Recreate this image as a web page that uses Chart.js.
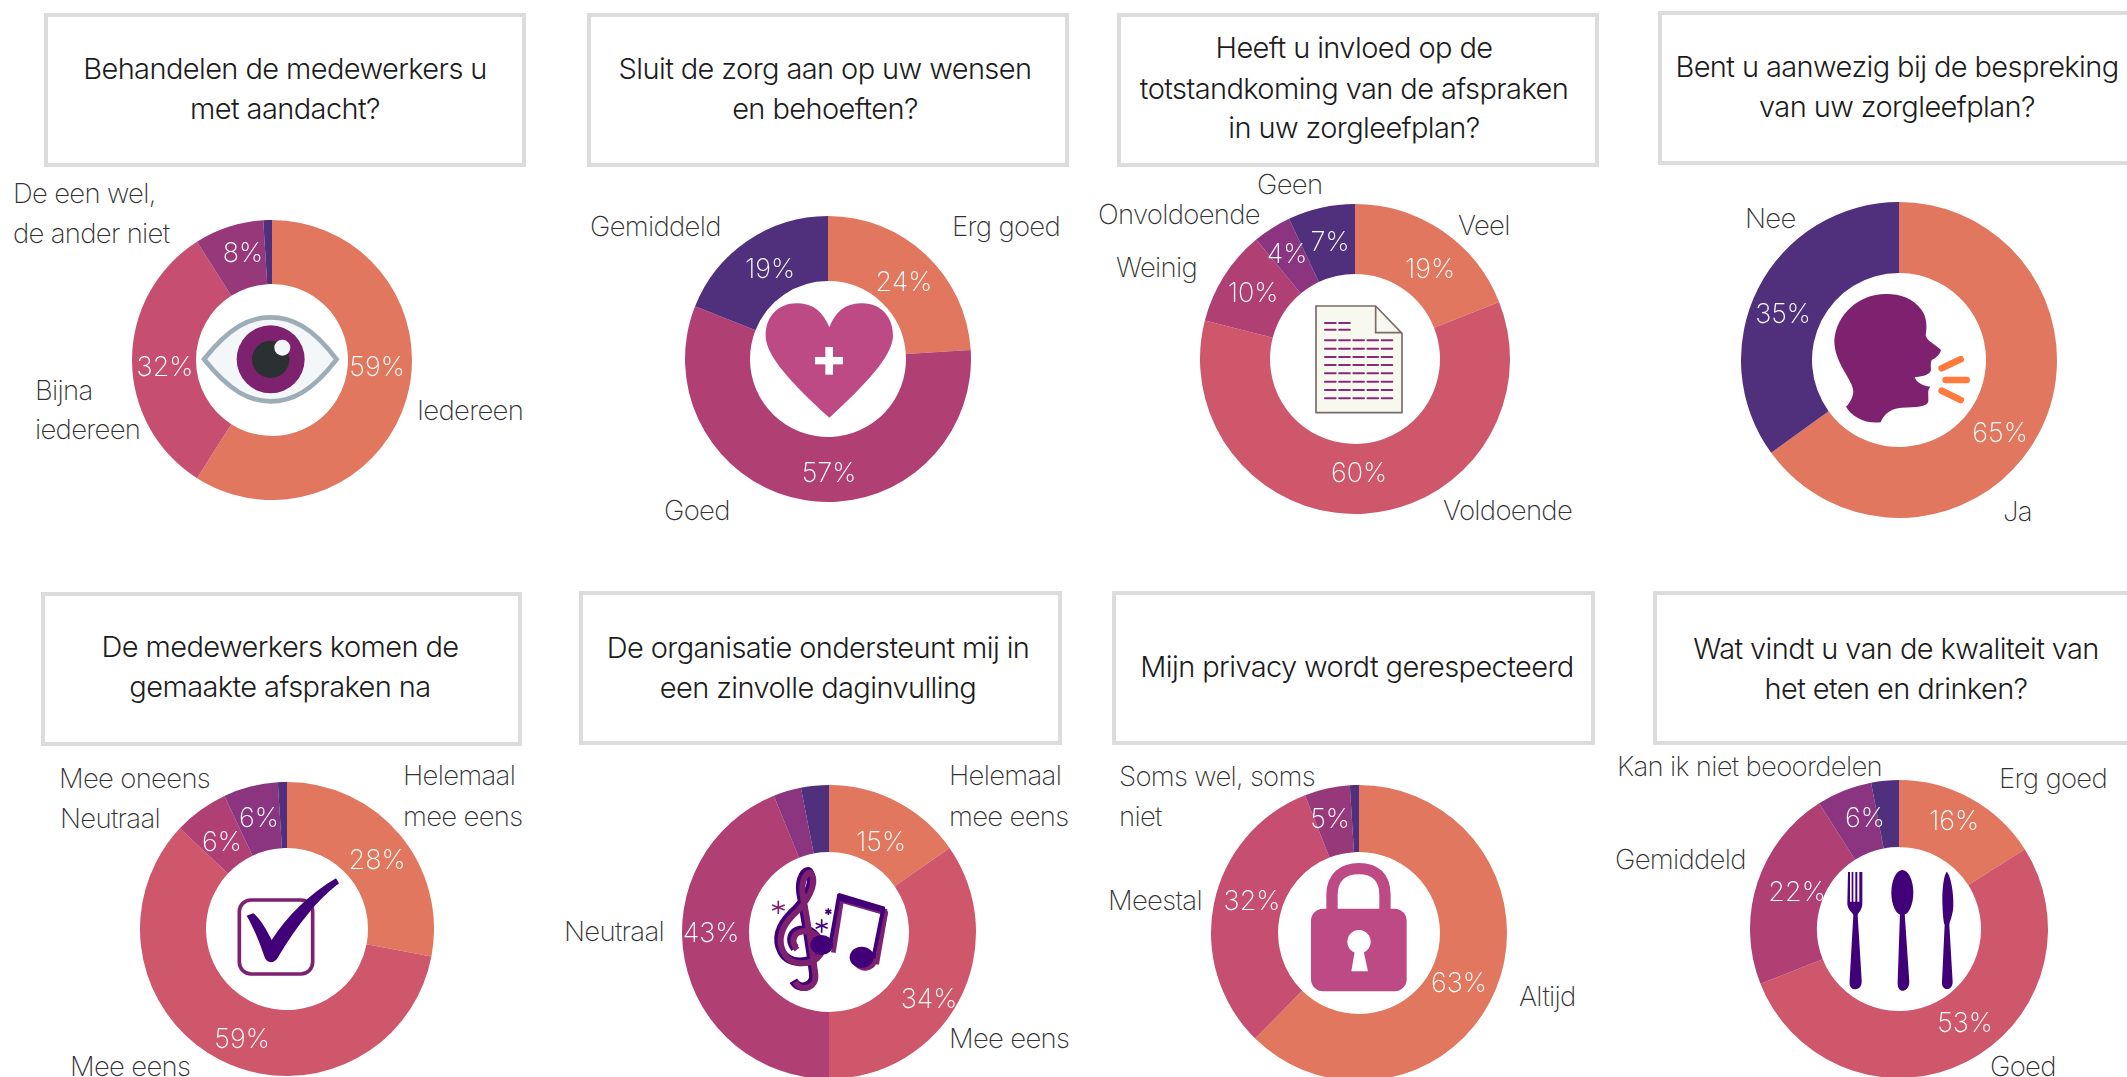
<!DOCTYPE html>
<html>
<head>
<meta charset="utf-8">
<title>Enquete resultaten</title>
<script src="https://cdn.jsdelivr.net/npm/chart.js@4"></script>
<style>
  html, body { margin: 0; padding: 0; background: #fff; }
  body { position: relative; width: 2127px; height: 1077px; overflow: hidden; font-family: Inter, sans-serif; }
  canvas { position: absolute; }
  .box { position: absolute; box-sizing: border-box; border: 4px solid #dcdcdc; background: #fff; }
  .title { position: absolute; transform: translate(-50%, -50%); white-space: nowrap; font-size: 29px; font-weight: 300; letter-spacing: -0.6px; color: #1c1c1c; }
  .cat { position: absolute; transform: translateY(-50%); white-space: nowrap; font-size: 27.5px; font-weight: 200; letter-spacing: -0.7px; color: #333; }
  svg { position: absolute; left: 0; top: 0; pointer-events: none; }
</style>
</head>
<body>
<svg width="2127" height="1077" viewBox="0 0 2127 1077" style="z-index:2">
  <!-- oog -->
  <g transform="translate(180,270) scale(.3333)">
    <path d="M72 268 C150 170 210 142 272 142 C335 142 395 170 470 268 C395 365 335 394 272 394 C210 394 150 365 72 268Z" fill="#f3f7fa" stroke="#9dadb7" stroke-width="14"/>
    <circle cx="272" cy="268" r="102" fill="#7e2270"/>
    <circle cx="272" cy="268" r="56" fill="#2b3033"/>
    <circle cx="307" cy="233" r="24" fill="#f3f7fa"/>
  </g>
  <!-- hart -->
  <g transform="translate(735,270) scale(.3333)">
    <path d="M283 172 C265 125 230 98 185 100 C130 100 90 140 92 200 C95 260 170 340 283 443 C395 340 470 260 474 200 C476 140 435 98 380 100 C335 98 300 125 283 172Z" fill="#be4a85"/>
    <rect x="240" y="261" width="84" height="22" fill="#fff"/>
    <rect x="271" y="231" width="23" height="83" fill="#fff"/>
  </g>
  <!-- document -->
  <g transform="translate(1265,280) scale(.3333)">
    <path d="M153 78 H332 L411 160 V398 H153Z" fill="#f8f9ee" stroke="#7a6b6b" stroke-width="5"/>
    <path d="M332 78 V158 H411" fill="none" stroke="#7a6b6b" stroke-width="5"/>
    <g stroke="#862a7a" stroke-width="6" stroke-linecap="round" stroke-dasharray="32 10.5">
      <path d="M180 129 H256M180 149 H256"/>
      <path d="M180 181 H384M180 206 H384M180 231 H384M180 255 H384M180 280 H384M180 305 H384M180 330 H384M180 355 H384"/>
    </g>
  </g>
  <!-- hoofd -->
  <g transform="translate(1810,270) scale(.3333)">
    <path d="M230 72 C150 70 80 130 73 210 C72 280 130 330 130 365 C128 385 118 400 108 410 C125 440 165 462 212 457 C222 430 245 415 275 413 C320 412 350 410 355 395 C357 375 350 360 362 350 C335 348 318 335 314 322 C335 318 358 318 363 300 C362 285 362 278 365 270 C378 265 392 250 393 240 C380 225 350 215 347 195 C352 170 350 140 335 120 C310 85 270 72 230 72Z" fill="#7e2270"/>
    <path d="M395 295 L452 268M407 330 H470M395 362 L452 390" stroke="#ff7a3c" stroke-width="20" stroke-linecap="round"/>
  </g>
  <!-- vinkje -->
  <g transform="translate(210,860) scale(.3333)">
    <rect x="88" y="120" width="220" height="222" rx="35" fill="none" stroke="#7e2270" stroke-width="11"/>
    <path d="M110 167 L130 160 C150 175 170 210 185 240 C230 170 300 100 378 55 L387 70 C320 120 260 200 205 290 C195 310 175 312 165 295 C155 265 135 210 110 167Z" fill="#420078"/>
  </g>
  <!-- muziek -->
  <g transform="translate(750,850) scale(.3333)">
    <path d="M130 392 C150 425 195 410 190 370 C185 330 165 200 152 130 C145 85 170 50 180 70 C195 100 165 155 125 190 C90 225 75 265 95 305 C115 345 180 345 205 310 C225 275 190 235 150 240 C125 245 115 270 135 295" fill="none" stroke="#420078" stroke-width="26"/>
    <path d="M136 396 C156 429 200 414 196 374 C191 334 171 204 158 134 C151 89 176 54 186 74 C201 104 171 159 131 194 C96 229 81 269 101 309 C121 349 186 349 211 314 C231 279 196 239 156 244 C131 249 121 274 141 299" fill="none" stroke="#7e2270" stroke-width="18"/>
    <g transform="translate(8,8)" fill="none" stroke="#7e2270" stroke-width="14">
      <path d="M268 135 L242 300"/>
      <path d="M400 175 L372 335"/>
    </g>
    <ellipse cx="345" cy="330" rx="36" ry="32" fill="#7e2270"/>
    <path d="M278 160 L412 198 V178 L278 140Z" fill="#7e2270"/>
    <g fill="none" stroke="#420078" stroke-width="12">
      <path d="M268 132 L240 290"/>
      <path d="M400 175 L370 325"/>
    </g>
    <path d="M265 128 L405 170 V190 L268 152Z" fill="#420078"/>
    <ellipse cx="215" cy="285" rx="34" ry="30" fill="#420078"/>
    <ellipse cx="335" cy="322" rx="36" ry="32" fill="#420078"/>
    <path d="M85 152 V192M66 165 L104 180M66 180 L104 165" stroke="#7e2270" stroke-width="5" fill="none"/>
    <path d="M215 208 V248M197 220 L233 235M197 235 L233 220M235 175 V195M226 180 L244 190M226 190 L244 180" stroke="#420078" stroke-width="5" fill="none"/>
  </g>
  <!-- slot -->
  <g transform="translate(1280,850) scale(.3333)">
    <path d="M156 185 V135 C156 80 190 56 237 56 C285 56 315 80 315 135 V185" fill="none" stroke="#be4a85" stroke-width="34"/>
    <rect x="93" y="176" width="287" height="248" rx="36" fill="#be4a85"/>
    <circle cx="237" cy="275" r="35" fill="#fff"/>
    <path d="M225 300 H250 L264 364 H214Z" fill="#fff"/>
  </g>
  <!-- bestek -->
  <g transform="translate(1820,850) scale(.3333)" fill="#420078">
    <path d="M84 66 H90 V155 H95 V66 H100 V155 H106 V66 H112 V155 H118 V66 H127 V160 C127 180 115 188 113 195 L125 390 C127 410 115 418 105 418 C95 418 87 410 89 390 L100 195 C98 188 82 180 82 160Z"/>
    <ellipse cx="247" cy="128" rx="33" ry="68"/>
    <path d="M240 190 H254 L268 395 C268 415 255 422 248 422 C240 422 232 415 233 395Z"/>
    <path d="M380 65 C392 75 402 130 400 170 C398 200 388 215 388 225 L398 395 C398 412 388 417 382 417 C372 417 365 410 366 395 L374 225 C370 215 368 190 367 150 C367 110 372 75 380 65Z"/>
  </g>
</svg>
<script>
  // waarden per vraag
  const vals1 = [59, 32, 8, 1];
  const vals2 = [24, 57, 19];
  const vals3 = [19, 60, 10, 4, 7];
  const vals4 = [65, 35];
  const vals5 = [28, 59, 6, 6, 1];
  const vals6 = [15, 34, 43, 3, 3];
  const vals7 = [63, 32, 5, 1];
  const vals8 = [16, 53, 22, 6, 3];

  const cats1 = ["Iedereen", "Bijna iedereen", "De een wel, de ander niet", "Geen"];
  const cats2 = ["Erg goed", "Goed", "Gemiddeld"];
  const cats3 = ["Veel", "Voldoende", "Weinig", "Onvoldoende", "Geen"];
  const cats4 = ["Ja", "Nee"];
  const cats5 = ["Helemaal mee eens", "Mee eens", "Neutraal", "Mee oneens", "Helemaal mee oneens"];
  const cats6 = ["Helemaal mee eens", "Mee eens", "Neutraal", "Mee oneens", "Helemaal mee oneens"];
  const cats7 = ["Altijd", "Meestal", "Soms wel, soms niet", "Nooit"];
  const cats8 = ["Erg goed", "Goed", "Gemiddeld", "Kan ik niet beoordelen", "Slecht"];

  const titles = [
    ["Behandelen de medewerkers u", "met aandacht?"],
    ["Sluit de zorg aan op uw wensen", "en behoeften?"],
    ["Heeft u invloed op de", "totstandkoming van de afspraken", "in uw zorgleefplan?"],
    ["Bent u aanwezig bij de bespreking", "van uw zorgleefplan?"],
    ["De medewerkers komen de", "gemaakte afspraken na"],
    ["De organisatie ondersteunt mij in", "een zinvolle daginvulling"],
    ["Mijn privacy wordt gerespecteerd"],
    ["Wat vindt u van de kwaliteit van", "het eten en drinken?"]
  ];

  const orange = "#e0775e", rose = "#cf576b", rose2 = "#c64f71", mag = "#b03f74", plum = "#8b347f", plum2 = "#97387a", purple = "#50307d";
  const colors = [
    [orange, rose2, plum2, purple],
    [orange, mag, purple],
    [orange, rose, mag, plum, purple],
    [orange, purple],
    [orange, rose, mag, plum, purple],
    [orange, rose, mag, plum, purple],
    [orange, rose2, plum2, purple],
    [orange, rose, mag, plum, purple]
  ];

  // layout: middelpunt en straal van de ringen
  const rings = [
    { cx: 272, cy: 360, r: 140, inner: 76 },
    { cx: 828, cy: 359, r: 143, inner: 78 },
    { cx: 1355, cy: 359, r: 155, inner: 85 },
    { cx: 1899, cy: 360, r: 158, inner: 87 },
    { cx: 287, cy: 929, r: 147, inner: 81 },
    { cx: 829, cy: 932, r: 147, inner: 80 },
    { cx: 1359, cy: 933, r: 148, inner: 81 },
    { cx: 1899, cy: 929, r: 149, inner: 82 }
  ];
  const boxes = [
    [44, 13, 482, 154], [587, 13, 482, 154], [1117, 13, 482, 154], [1658, 11, 482, 154],
    [41, 592, 481, 154], [579, 591, 483, 154], [1112, 591, 483, 154], [1653, 591, 482, 154]
  ];
  const titlePos = [
    [285, [68, 108]], [825, [68, 108]], [1354, [47, 88, 127]], [1897, [66, 106]],
    [280, [646, 686]], [818, [647, 687]], [1357, [666]], [1896, [648, 688]]
  ];
  const pctPos = [
    [[377, 368], [165, 368], [243, 254]],
    [[904, 283], [829, 474], [770, 270]],
    [[1430, 270], [1359, 474], [1253, 294], [1287, 255], [1330, 243]],
    [[2000, 434], [1783, 315]],
    [[377, 861], [242, 1040], [222, 843], [259, 819]],
    [[881, 843], [929, 1000], [711, 934]],
    [[1459, 984], [1252, 902], [1330, 820]],
    [[1954, 822], [1965, 1024], [1797, 893], [1865, 819]]
  ];
  const catPos = [
    ["De een wel,", 13, 193], ["de ander niet", 13, 233], ["Bijna", 35, 390], ["iedereen", 35, 429], ["Iedereen", 417, 410],
    ["Gemiddeld", 590, 226], ["Erg goed", 952, 226], ["Goed", 664, 510],
    ["Geen", 1257, 184], ["Onvoldoende", 1098, 214], ["Weinig", 1116, 267], ["Veel", 1458, 225], ["Voldoende", 1443, 510],
    ["Nee", 1745, 218], ["Ja", 2003, 511],
    ["Mee oneens", 59, 778], ["Neutraal", 60, 818], ["Helemaal", 403, 775], ["mee eens", 403, 816], ["Mee eens", 70, 1066],
    ["Neutraal", 564, 931], ["Helemaal", 949, 775], ["mee eens", 949, 816], ["Mee eens", 949, 1038],
    ["Soms wel, soms", 1119, 776], ["niet", 1119, 816], ["Meestal", 1108, 900], ["Altijd", 1519, 996],
    ["Kan ik niet beoordelen", 1617, 766], ["Gemiddeld", 1615, 859], ["Erg goed", 1999, 778], ["Goed", 1990, 1066]
  ];

  const allVals = [vals1, vals2, vals3, vals4, vals5, vals6, vals7, vals8];
  const allCats = [cats1, cats2, cats3, cats4, cats5, cats6, cats7, cats8];

  // percentages in de ring, alleen als het vak groot genoeg is
  const pctLabels = {
    id: "pctLabels",
    afterDatasetsDraw(chart, args, opts) {
      const c = chart.ctx;
      c.save();
      c.font = "200 27px Inter";
      c.fillStyle = "#fff";
      c.textAlign = "center";
      c.textBaseline = "middle";
      chart.data.datasets[0].data.forEach((v, i) => {
        if (v > 3) {
          const p = pctPos[opts.index][i];
          c.fillText(v + "%", p[0] - opts.left, p[1] - opts.top);
        }
      });
      c.restore();
    }
  };

  boxes.forEach(b => {
    const d = document.createElement("div");
    d.className = "box";
    d.style.cssText = "left:" + b[0] + "px;top:" + b[1] + "px;width:" + b[2] + "px;height:" + b[3] + "px";
    document.body.appendChild(d);
  });

  titles.forEach((lines, t) => {
    lines.forEach((line, i) => {
      const d = document.createElement("div");
      d.className = "title";
      d.textContent = line;
      d.style.left = titlePos[t][0] + "px";
      d.style.top = titlePos[t][1][i] + "px";
      document.body.appendChild(d);
    });
  });

  catPos.forEach(l => {
    const d = document.createElement("div");
    d.className = "cat";
    d.textContent = l[0];
    d.style.left = l[1] + "px";
    d.style.top = l[2] + "px";
    document.body.appendChild(d);
  });

  document.fonts.load("200 27px Inter").finally(() => {
    rings.forEach((g, i) => {
      const cv = document.createElement("canvas");
      cv.width = g.r * 2;
      cv.height = g.r * 2;
      cv.style.left = (g.cx - g.r) + "px";
      cv.style.top = (g.cy - g.r) + "px";
      cv.style.zIndex = 1;
      document.body.appendChild(cv);
      new Chart(cv.getContext("2d"), {
        type: "doughnut",
        data: {
          labels: allCats[i],
          datasets: [{ data: allVals[i], backgroundColor: colors[i], borderWidth: 0 }]
        },
        options: {
          responsive: false,
          animation: false,
          cutout: g.inner,
          layout: { padding: 0 },
          plugins: {
            legend: { display: false },
            tooltip: { enabled: false },
            pctLabels: { index: i, left: g.cx - g.r, top: g.cy - g.r }
          }
        },
        plugins: [pctLabels]
      });
    });
  });
</script>
</body>
</html>
